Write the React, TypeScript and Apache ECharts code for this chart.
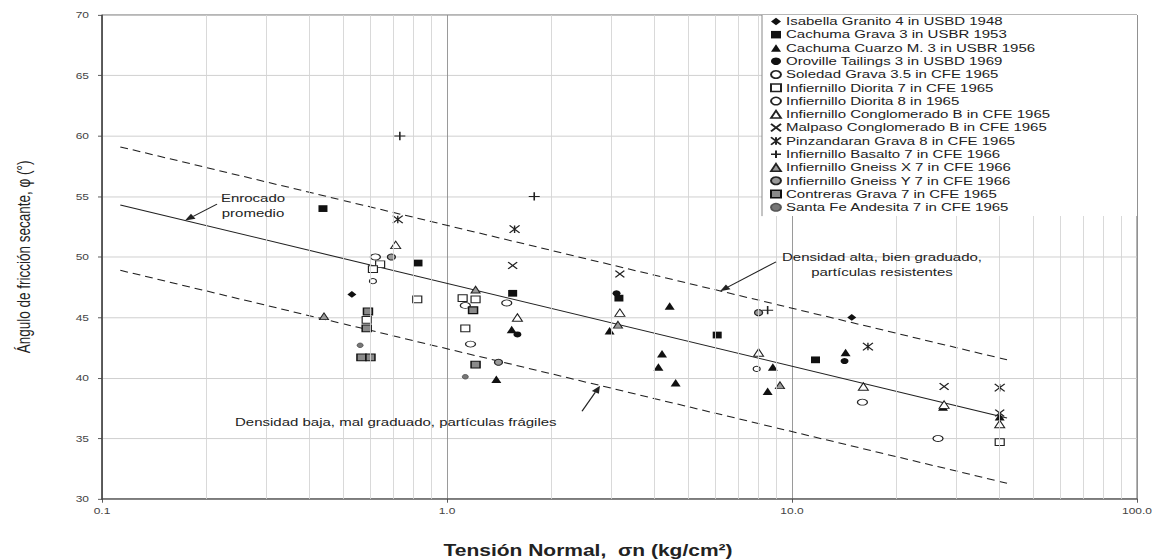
import React, { useEffect, useRef } from "react";
import * as echarts from "echarts";

// ---- axis / grid values ----
const X_MIN = 0.1;
const X_MAX = 100;
const Y_MIN = 30;
const Y_MAX = 70;
const Y_STEP = 5;
const MINOR_X = [0.2, 0.3, 0.4, 0.5, 0.6, 0.7, 0.8, 0.9, 2, 3, 4, 5, 6, 7, 8, 9, 20, 30, 40, 50, 60, 70, 80, 90];

// ---- reference lines (x at both ends, y values) ----
const LINE_X = [0.113, 42];
const LINE_MEDIO = [54.3, 36.7];
const LINE_ALTA = [59.1, 41.5];
const LINE_BAJA = [48.9, 31.3];

// ---- series names ----
const NAMES = [
  "Isabella Granito 4 in USBD 1948",
  "Cachuma Grava 3 in USBR 1953",
  "Cachuma Cuarzo M. 3 in USBR 1956",
  "Oroville Tailings 3 in USBD 1969",
  "Soledad Grava 3.5 in CFE 1965",
  "Infiernillo Diorita 7 in CFE 1965",
  "Infiernillo Diorita 8 in 1965",
  "Infiernillo Conglomerado B in CFE 1965",
  "Malpaso Conglomerado B in CFE 1965",
  "Pinzandaran Grava 8 in CFE 1965",
  "Infiernillo Basalto 7 in CFE 1966",
  "Infiernillo Gneiss X 7 in CFE 1966",
  "Infiernillo Gneiss Y 7 in CFE 1966",
  "Contreras Grava 7 in CFE 1965",
  "Santa Fe Andesita 7 in CFE 1965",
];

// ---- data: [tensión normal, ángulo] ----
const ISABELLA = [[0.53, 46.9], [14.9, 45.0]];
const CACHUMA_GRAVA = [[0.437, 54.0], [0.824, 49.5], [1.55, 47.0], [3.15, 46.6], [6.07, 43.55], [11.7, 41.5]];
const CACHUMA_CUARZO = [[1.39, 39.9], [1.54, 44.0], [2.96, 43.9], [4.42, 45.95], [4.2, 42.0], [4.1, 40.9], [4.6, 39.6], [8.8, 40.9], [8.5, 38.9], [14.3, 42.1], [27.4, 37.6], [40, 36.8]];
const OROVILLE = [[1.6, 43.6], [3.1, 47.0], [14.2, 41.4]];
const SOLEDAD = [[0.62, 50.0], [1.13, 46.0], [1.49, 46.2], [1.17, 42.8], [16.0, 38.0], [26.5, 35.0]];
const DIORITA7 = [[0.64, 49.4], [0.61, 49.0], [0.82, 46.5], [1.11, 46.6], [1.21, 46.5], [0.585, 44.8], [1.13, 44.1], [40, 34.7]];
const DIORITA8 = [[0.61, 48.0], [7.9, 40.75]];
const CONGLOMERADO = [[0.71, 51.0], [1.6, 45.0], [3.17, 45.4], [8.0, 42.1], [16.1, 39.3], [27.6, 37.8], [40, 36.2]];
const MALPASO = [[1.55, 49.3], [3.17, 48.6], [27.6, 39.3], [40, 37.1]];
const PINZANDARAN = [[0.72, 53.1], [1.57, 52.3], [16.6, 42.6], [40, 39.2]];
const BASALTO = [[0.73, 60.0], [1.79, 55.0], [8.5, 45.6]];
const GNEISS_X = [[0.44, 45.1], [1.21, 47.3], [3.13, 44.4], [9.23, 39.4]];
const GNEISS_Y = [[0.69, 50.0], [1.41, 41.3], [8.0, 45.4]];
const CONTRERAS = [[0.59, 45.5], [0.585, 44.1], [0.565, 41.7], [0.6, 41.7], [1.19, 45.6], [1.21, 41.1]];
const SANTA_FE = [[0.56, 42.7], [1.13, 40.1]];

const FONT = "Liberation Sans, Arial, sans-serif";
const SQUASH = 559 / 745;

const P_CROSS = "path://M0,0 L10,10 M10,0 L0,10";
const P_STAR = "path://M0,0 L10,10 M10,0 L0,10 M5,0 L5,10";
const P_PLUS = "path://M5,0 L5,10 M0,5 L10,5";

function sc(name: string, data: number[][], symbol: string, size: any, fill: string, stroke: string, bw: number) {
  return {
    type: "scatter",
    name,
    data,
    symbol,
    symbolSize: size,
    z: 3,
    silent: true,
    itemStyle: { color: fill, borderColor: stroke, borderWidth: bw, opacity: 1 },
  };
}

function lineSeries(ys: number[], type: any) {
  return {
    type: "line",
    data: LINE_X.map((x, i) => [x, ys[i]]),
    symbol: "none",
    silent: true,
    z: 2,
    lineStyle: { color: "#222", width: 1.4, type },
  };
}

function arrow(t: number[], h: number[]) {
  const dx = h[0] - t[0];
  const dy = h[1] - t[1];
  const L = Math.hypot(dx, dy);
  const ux = dx / L;
  const uy = dy / L;
  const len = 10;
  const w = 4;
  const bx = h[0] - ux * len;
  const by = h[1] - uy * len;
  return [
    { type: "line", z: 12, shape: { x1: t[0], y1: t[1], x2: bx, y2: by }, style: { stroke: "#222", lineWidth: 1.3 } },
    {
      type: "polygon",
      z: 12,
      shape: { points: [[h[0], h[1]], [bx - uy * w, by + ux * w], [bx + uy * w, by - ux * w]] },
      style: { fill: "#222" },
    },
  ];
}

function txt(x: number, y: number, text: string, size: number, align: string, weight = "normal") {
  return {
    type: "text",
    z: 12,
    x,
    y,
    style: { text, fontSize: size, fontFamily: FONT, fill: "#222", align, verticalAlign: "middle", fontWeight: weight },
  };
}

export default function App() {
  const ref = useRef<HTMLDivElement>(null);
  useEffect(() => {
    if (!ref.current) return;
    const chart = echarts.init(ref.current, null, { renderer: "svg" });
    const option: any = {
      animation: false,
      backgroundColor: "#fff",
      textStyle: { fontFamily: FONT },
      grid: { left: 102, right: 20, top: 20, bottom: 80, show: true, borderColor: "#555", borderWidth: 1, backgroundColor: "transparent" },
      xAxis: {
        type: "log",
        logBase: 10,
        min: X_MIN,
        max: X_MAX,
        axisLine: { show: true, onZero: false, lineStyle: { color: "#444", width: 1.5 } },
        axisTick: { show: true, length: 5, lineStyle: { color: "#444" } },
        axisLabel: { fontSize: 12, color: "#444", margin: 10, formatter: (v: number) => Number(v).toFixed(1) },
        splitLine: { show: true, lineStyle: { color: "#8c8c8c", width: 1 } },
      },
      yAxis: {
        type: "value",
        min: Y_MIN,
        max: Y_MAX,
        interval: Y_STEP,
        axisLine: { show: true, lineStyle: { color: "#444", width: 1.5 } },
        axisTick: { show: true, length: 4, lineStyle: { color: "#444" } },
        axisLabel: { fontSize: 12, color: "#444", margin: 13 },
        splitLine: { show: true, lineStyle: { color: "#c8c8c8", width: 1 } },
        name: "Ángulo de fricción secante, φ (°)",
        nameLocation: "middle",
        nameRotate: 90,
        nameGap: 69,
        nameTextStyle: { fontSize: 18, color: "#222", fontFamily: FONT },
      },
      legend: {
        data: NAMES,
        orient: "vertical",
        left: 770,
        top: 21,
        padding: 0,
        itemGap: 2.7,
        itemWidth: 10,
        itemHeight: 10,
        z: 11,
        selectedMode: false,
        textStyle: { fontSize: 15, lineHeight: 14, color: "#222", fontFamily: FONT },
      },
      series: [
        {
          type: "line",
          data: [],
          silent: true,
          z: 1,
          markLine: {
            silent: true,
            symbol: ["none", "none"],
            label: { show: false },
            lineStyle: { color: "#d4d4d4", width: 1, type: "solid" },
            data: MINOR_X.map((v) => ({ xAxis: v })),
          },
        },
        lineSeries(LINE_ALTA, [8, 5]),
        lineSeries(LINE_MEDIO, "solid"),
        lineSeries(LINE_BAJA, [8, 5]),
        sc(NAMES[0], ISABELLA, "diamond", 9, "#111", "#111", 0),
        sc(NAMES[1], CACHUMA_GRAVA, "rect", 9, "#111", "#111", 0),
        sc(NAMES[2], CACHUMA_CUARZO, "triangle", 10, "#111", "#111", 0),
        sc(NAMES[3], OROVILLE, "circle", 8, "#111", "#111", 0),
        sc(NAMES[4], SOLEDAD, "circle", [10, 8], "#fff", "#222", 1.2),
        sc(NAMES[5], DIORITA7, "rect", 9, "#fff", "#222", 1.2),
        sc(NAMES[6], DIORITA8, "circle", 7, "#fff", "#222", 1.2),
        sc(NAMES[7], CONGLOMERADO, "triangle", 10, "#fff", "#222", 1.2),
        sc(NAMES[8], MALPASO, P_CROSS, 9, "#222", "#222", 1.5),
        sc(NAMES[9], PINZANDARAN, P_STAR, 10, "#222", "#222", 1.4),
        sc(NAMES[10], BASALTO, P_PLUS, 11, "#222", "#222", 1.6),
        sc(NAMES[11], GNEISS_X, "triangle", 9, "#9a9a9a", "#222", 1.2),
        sc(NAMES[12], GNEISS_Y, "circle", 8, "#9a9a9a", "#222", 1.3),
        sc(NAMES[13], CONTRERAS, "rect", 9, "#8a8a8a", "#111", 1.5),
        sc(NAMES[14], SANTA_FE, "circle", 6, "#777", "#555", 1),
      ],
      graphic: {
        elements: [
          { type: "rect", z: 10, shape: { x: 762, y: 20, width: 375, height: 268 }, style: { fill: "#fff", stroke: "none" } },
          { type: "line", z: 10, shape: { x1: 762, y1: 20, x2: 762, y2: 288 }, style: { stroke: "#777", lineWidth: 1 } },
          txt(253, 264, "Enrocado", 15, "center"),
          txt(253, 284, "promedio", 15, "center"),
          ...arrow([217, 272], [185, 294]),
          txt(882, 343, "Densidad alta, bien graduado,", 15, "center"),
          txt(882, 363, "partículas resistentes", 15, "center"),
          ...arrow([776, 349], [720, 388]),
          txt(235, 563, "Densidad baja, mal graduado, partículas frágiles", 15, "left"),
          ...arrow([582, 548], [600, 514]),
          txt(588, 734, "Tensión Normal,  σn (kg/cm²)", 21, "center", "bold"),
        ],
      },
    };
    chart.setOption(option);
    return () => chart.dispose();
  }, []);
  return (
    <div style={{ position: "fixed", left: 0, top: 0, width: 1157, height: 559, overflow: "hidden", background: "#fff" }}>
      <div
        ref={ref}
        style={{ width: 1157, height: 745, transform: `scaleY(${SQUASH})`, transformOrigin: "0 0" }}
      />
    </div>
  );
}
